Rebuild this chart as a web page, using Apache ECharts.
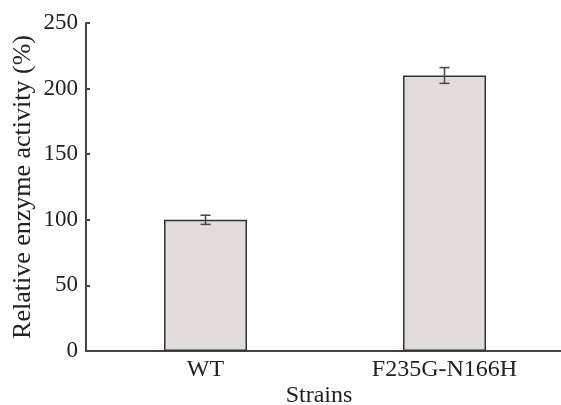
<!DOCTYPE html>
<html>
<head>
<meta charset="utf-8">
<script src="https://cdn.jsdelivr.net/npm/echarts@6/dist/echarts.min.js"></script>
<style>html,body{margin:0;padding:0;background:#fff;}#c{width:561px;height:405px;}</style>
</head>
<body>
<div id="c"></div>
<script>
const categories = ['WT', 'F235G-N166H'];
const activity = [100, 210];
const errors = [3.5, 6];
const yTicks = [0, 50, 100, 150, 200, 250];

const FONT = '"Liberation Serif", "Times New Roman", serif';
const chart = echarts.init(document.getElementById('c'), null, {renderer: 'canvas'});
const errData = categories.map((c, i) => [i, activity[i] - errors[i], activity[i] + errors[i]]);

chart.setOption({
  animation: false,
  backgroundColor: '#fff',
  grid: {left: 86, top: 23, bottom: 54, width: 478, outerBoundsMode: 'none', containLabel: false},
  xAxis: {
    type: 'category',
    data: categories,
    axisLine: {lineStyle: {color: '#444', width: 2}},
    axisTick: {show: false},
    axisLabel: {color: '#222', fontFamily: FONT, fontSize: 24, margin: 7},
    name: 'Strains',
    nameLocation: 'middle',
    nameGap: 33,
    nameMoveOverlap: false,
    nameTextStyle: {color: '#222', fontFamily: FONT, fontSize: 24, padding: [0, 12, 0, 0]}
  },
  yAxis: {
    type: 'value',
    min: yTicks[0],
    max: yTicks[yTicks.length - 1],
    interval: 50,
    splitLine: {show: false},
    axisLine: {show: true, lineStyle: {color: '#444', width: 2}},
    axisTick: {show: true, inside: true, length: 4, lineStyle: {color: '#444', width: 2}},
    axisLabel: {color: '#222', fontFamily: FONT, fontSize: 23, margin: 8},
    name: 'Relative enzyme activity (%)',
    nameLocation: 'middle',
    nameGap: 50,
    nameMoveOverlap: false,
    nameTextStyle: {color: '#222', fontFamily: FONT, fontSize: 26}
  },
  series: [
    {
      type: 'bar',
      data: activity,
      barWidth: 83,
      itemStyle: {color: '#e1dcd9', borderColor: '#333', borderWidth: 1.5}
    },
    {
      type: 'custom',
      data: errData,
      z: 10,
      renderItem: function (params, api) {
        const x = api.value(0);
        const lo = api.coord([x, api.value(1)]);
        const hi = api.coord([x, api.value(2)]);
        const hw = 5;
        const style = {stroke: '#444', lineWidth: 1.5};
        return {
          type: 'group',
          children: [
            {type: 'line', shape: {x1: lo[0], y1: lo[1], x2: hi[0], y2: hi[1]}, style: style},
            {type: 'line', shape: {x1: lo[0] - hw, y1: lo[1], x2: lo[0] + hw, y2: lo[1]}, style: style},
            {type: 'line', shape: {x1: hi[0] - hw, y1: hi[1], x2: hi[0] + hw, y2: hi[1]}, style: style}
          ]
        };
      }
    }
  ]
});
</script>
</body>
</html>
